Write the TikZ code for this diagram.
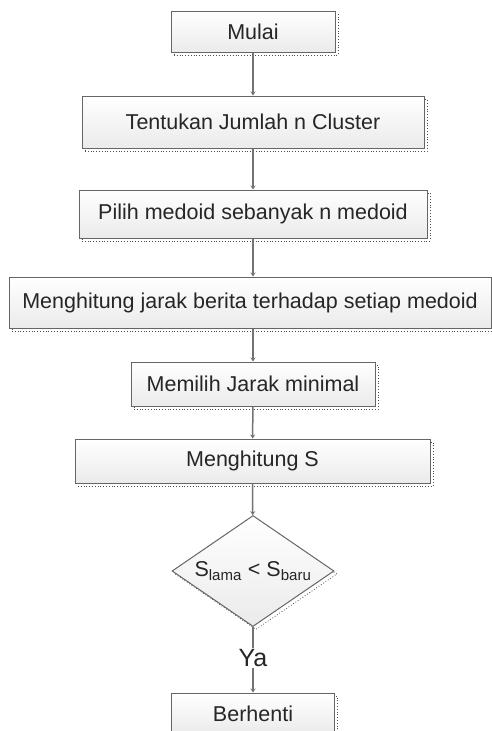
\documentclass[tikz,border=0pt]{standalone}
\usepackage{fontspec}
\setmainfont{Liberation Sans}
\usetikzlibrary{shapes.geometric,shadows,arrows.meta}

\tikzset{
  box/.style={draw=black!60, line width=1pt, rectangle, top color=white, bottom color=black!8,
    text=black!85, font=\fontsize{21.5}{25}\selectfont, inner sep=0pt,
    general shadow={draw=black!70, dotted, line width=0.8pt, shadow xshift=3pt, shadow yshift=-3pt}},
  decision/.style={box, diamond, aspect=1.46},
  line/.style={draw=black!55, line width=1.5pt, -{Stealth[length=4pt,width=5pt]}}
}

\begin{document}
\begin{tikzpicture}[x=1pt,y=-1pt]
  \useasboundingbox (0,0) rectangle (492,731);
  % langkah-langkah
  \node [box, minimum width=164pt, minimum height=41pt] (mulai) at (253,31.5) {Mulai};
  \node [box, minimum width=342pt, minimum height=52pt] (tentukan) at (253,122) {Tentukan Jumlah n Cluster};
  \node [box, minimum width=348pt, minimum height=48pt] (pilih) at (253,214) {Pilih medoid sebanyak n medoid};
  \node [box, minimum width=482pt, minimum height=51pt] (hitungjarak) at (250,302.5) {Menghitung jarak berita terhadap setiap medoid};
  \node [box, minimum width=244pt, minimum height=44pt] (memilih) at (253,384) {Memilih Jarak minimal};
  \node [box, minimum width=355pt, minimum height=44pt] (hitungS) at (252.5,461) {Menghitung S};
  \node [decision, minimum width=162pt, minimum height=111pt] (cek) at (253,571) {S\textsubscript{lama} < S\textsubscript{baru}};
  \node [box, minimum width=163pt, minimum height=41pt] (berhenti) at (253,713.5) {Berhenti};
  % panah
  \draw [line] (mulai) -- (tentukan);
  \draw [line] (tentukan) -- (pilih);
  \draw [line] (pilih.south) -- (pilih.south |- hitungjarak.north);
  \draw [line] (pilih.south |- hitungjarak.south) -- (memilih.north);
  \draw [line] (memilih) -- (hitungS);
  \draw [line] (hitungS) -- (cek);
  \draw [line] (cek) -- node [pos=0.47, fill=white, text=black!85, font=\fontsize{25}{28}\selectfont, inner sep=1pt] {Ya} (berhenti);
\end{tikzpicture}
\end{document}
